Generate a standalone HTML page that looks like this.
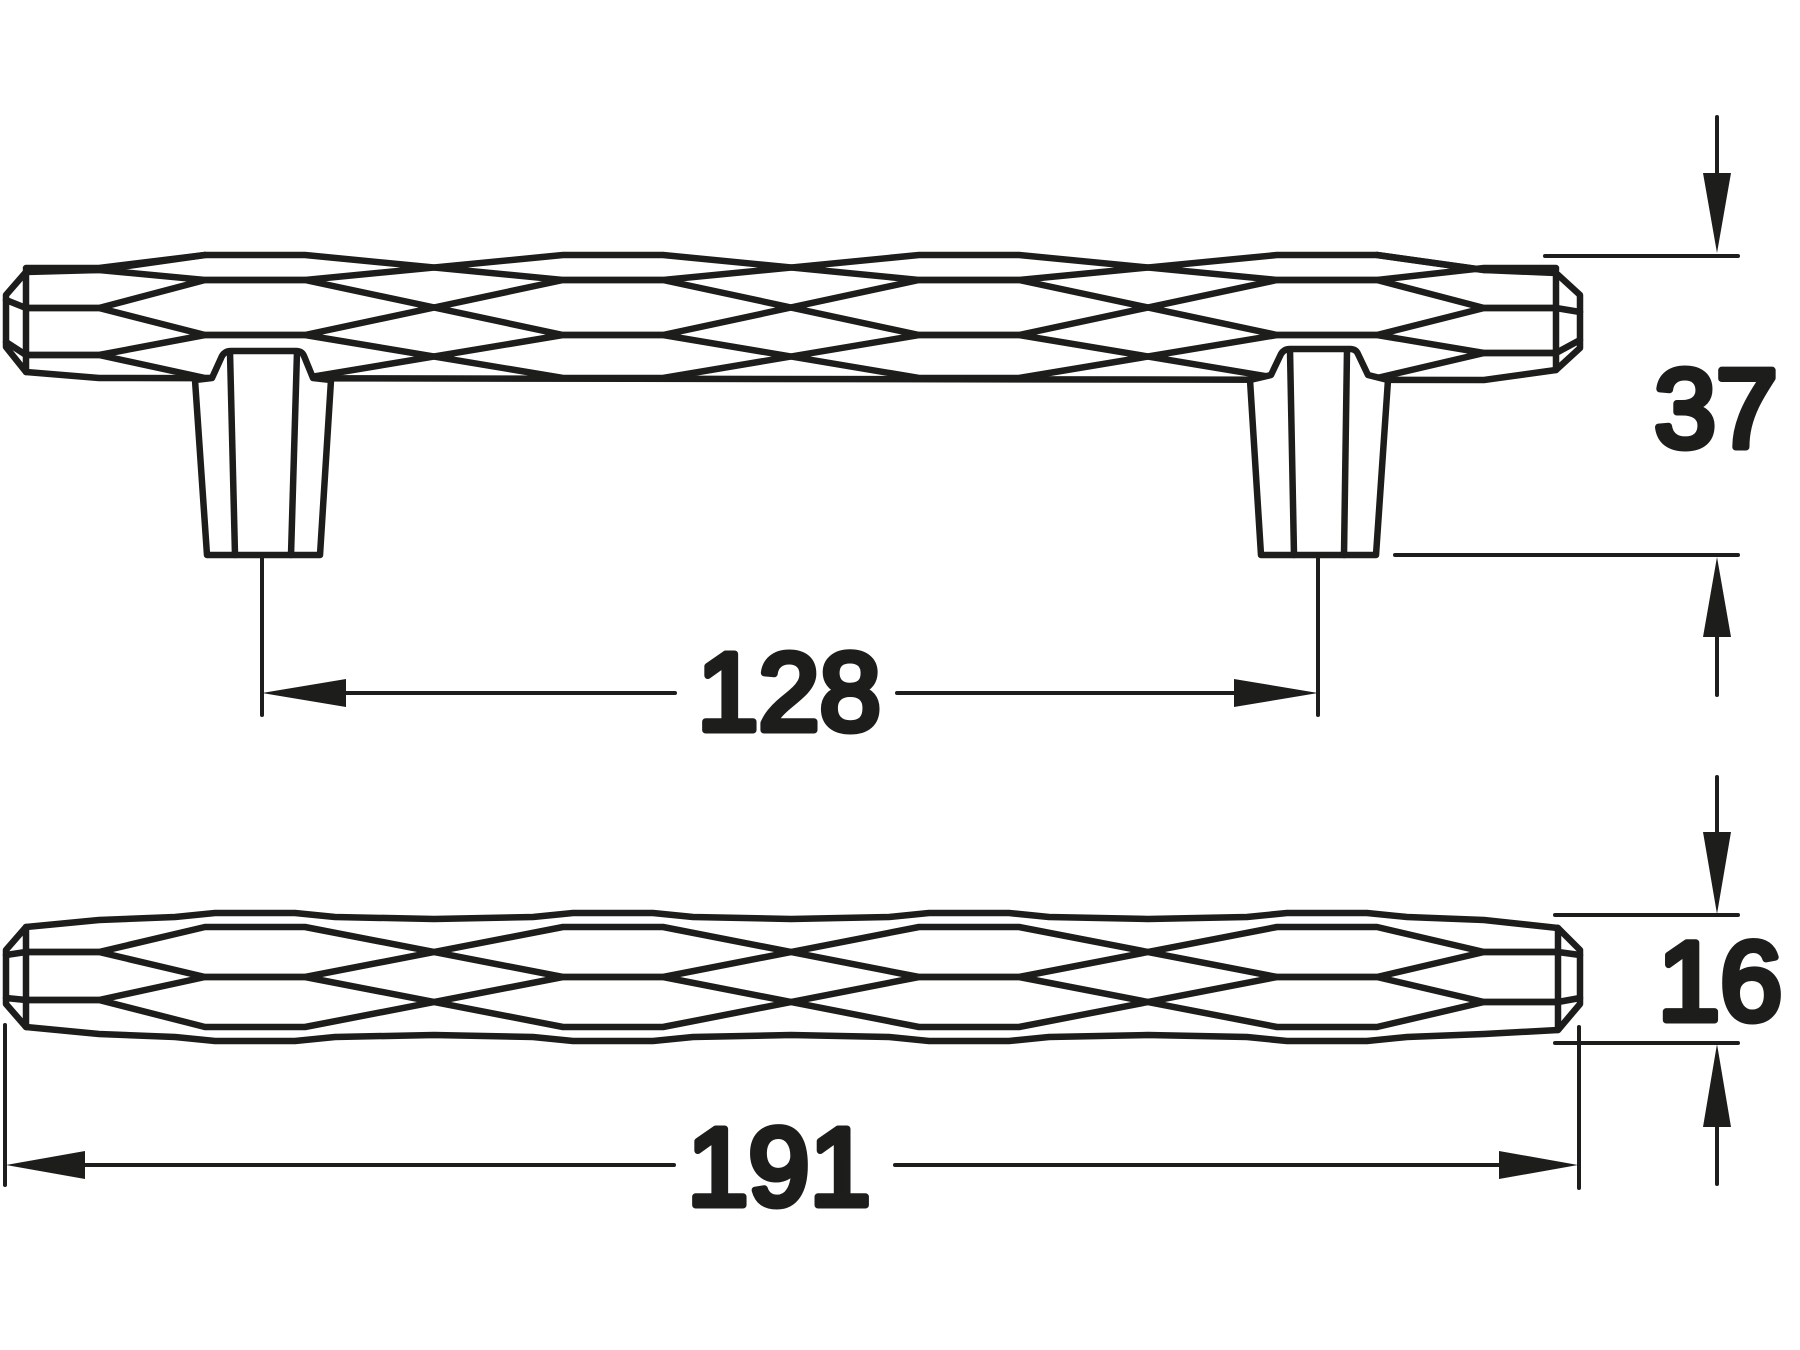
<!DOCTYPE html>
<html><head><meta charset="utf-8"><style>
html,body{margin:0;padding:0;background:#fff}
svg{display:block}
.t{font-family:"Liberation Sans",Arial,Helvetica,sans-serif;font-weight:400}
</style></head><body>
<svg width="1800" height="1350" viewBox="0 0 1800 1350" xmlns="http://www.w3.org/2000/svg">
<g fill="none" stroke="#1d1d1b" stroke-width="6.5" stroke-linejoin="round" stroke-linecap="round">
<polyline points="26,268 99,268 205,255 305,255 563,280 663,280 919,255 1019,255 1277,280 1377,280 1484,268 1556,268"/>
<polyline points="26,270 99,270 205,280 305,280 563,255 663,255 919,280 1019,280 1277,255 1377,255 1484,270 1556,270"/>
<polyline points="26,308 99,308 205,280 305,280 563,335 663,335 919,280 1019,280 1277,335 1377,335 1484,308 1556,308"/>
<polyline points="26,308 99,308 205,335 305,335 563,280 663,280 919,335 1019,335 1277,280 1377,280 1484,308 1556,308"/>
<polyline points="26,355 99,355 205,335 305,335 563,378 663,378 919,335 1019,335 1277,378 1377,378 1484,353 1556,353"/>
<polyline points="26,355 99,355 205,378 305,378 563,335 663,335 919,378 1019,378 1277,335 1377,335 1484,353 1556,353"/>
<polyline points="26,272 99,270 205,255"/>
<polyline points="1377,255 1484,270 1556,273"/>
<polyline points="26,372 99,378 1484,380 1556,370"/>
<polyline points="26,272 6,295 6,347 26,372 26,272"/>
<polyline points="6,300 26,308"/><polyline points="6,342 26,355"/>
<polyline points="1556,273 1580,295 1580,348 1556,370 1556,273"/>
<polyline points="1580,312 1556,308"/><polyline points="1580,340 1556,353"/>

<path d="M195,380 L212,378 L222,356 Q225,351 231,351 L296,351 Q302,351 304,356 L313,378 L331,380 L320,555 L207,555 Z" fill="#fff"/>
<line x1="230" y1="352" x2="235" y2="555"/>
<line x1="297" y1="352" x2="291" y2="555"/>
<path d="M1250,380 L1271,375 L1281,354 Q1284,349 1290,349 L1350,349 Q1356,349 1358,354 L1368,375 L1388,380 L1376,555 L1261,555 Z" fill="#fff"/>
<line x1="1290" y1="350" x2="1294" y2="555"/>
<line x1="1347" y1="350" x2="1344" y2="555"/>

<polyline points="26,952 99,952 205,927 305,927 563,977 663,977 919,927 1019,927 1277,977 1377,977 1484,952 1558,952"/>
<polyline points="26,952 99,952 205,977 305,977 563,927 663,927 919,977 1019,977 1277,927 1377,927 1484,952 1558,952"/>
<polyline points="26,1000 99,1000 205,977 305,977 563,1027 663,1027 919,977 1019,977 1277,1027 1377,1027 1484,1002 1558,1002"/>
<polyline points="26,1000 99,1000 205,1027 305,1027 563,977 663,977 919,1027 1019,1027 1277,977 1377,977 1484,1002 1558,1002"/>
<polyline points="26,927 99,920 175,917 215,913 295,913 335,917 434,919 533,917 573,913 653,913 693,917 791,919 889,917 929,913 1009,913 1049,917 1148,919 1247,917 1287,913 1367,913 1407,917 1484,920 1558,928"/>
<polyline points="26,1027 99,1034 175,1037 215,1041 295,1041 335,1037 434,1035 533,1037 573,1041 653,1041 693,1037 791,1035 889,1037 929,1041 1009,1041 1049,1037 1148,1035 1247,1037 1287,1041 1367,1041 1407,1037 1484,1034 1558,1030"/>
<polyline points="26,927 6,950 6,1004 26,1027 26,927"/>
<polyline points="6,955 26,952"/><polyline points="6,998 26,1000"/>
<polyline points="1558,928 1580,950 1580,1004 1558,1030 1558,928"/>
<polyline points="1580,955 1558,952"/><polyline points="1580,998 1558,1002"/>
</g>

<g stroke="#1d1d1b" stroke-width="4" stroke-linecap="round" fill="none">
<line x1="262" y1="555" x2="262" y2="715"/>
<line x1="1318" y1="555" x2="1318" y2="715"/>
<line x1="300" y1="693" x2="675" y2="693"/>
<line x1="897" y1="693" x2="1290" y2="693"/>
<line x1="1545" y1="256" x2="1738" y2="256"/>
<line x1="1717" y1="117" x2="1717" y2="180"/>
<line x1="1395" y1="555" x2="1738" y2="555"/>
<line x1="1717" y1="630" x2="1717" y2="695"/>
<line x1="1717" y1="777" x2="1717" y2="840"/>
<line x1="1555" y1="915" x2="1738" y2="915"/>
<line x1="1555" y1="1043" x2="1738" y2="1043"/>
<line x1="1717" y1="1120" x2="1717" y2="1184"/>
<line x1="5" y1="1025" x2="5" y2="1185"/>
<line x1="1579" y1="1027" x2="1579" y2="1188"/>
<line x1="60" y1="1165" x2="674" y2="1165"/>
<line x1="895" y1="1165" x2="1550" y2="1165"/>
</g>
<g fill="#1d1d1b">
<polygon points="262,693 346,679 346,707"/>
<polygon points="1318,693 1234,679 1234,707"/>
<polygon points="1717,253 1703,173 1731,173"/>
<polygon points="1717,557 1703,637 1731,637"/>
<polygon points="1717,914 1703,832 1731,832"/>
<polygon points="1717,1044 1703,1127 1731,1127"/>
<polygon points="6,1165 85,1151 85,1179"/>
<polygon points="1578,1165 1499,1151 1499,1179"/>
</g>
<g class="t" fill="#1d1d1b" stroke="#1d1d1b" stroke-width="7" stroke-linejoin="round" text-anchor="middle">
<text class="t" x="789" y="730" font-size="110">128</text>
<text class="t" x="779" y="1205" font-size="110">191</text>
<text class="t" x="1716" y="447" font-size="111">37</text>
<text class="t" x="1720" y="1020" font-size="112">16</text>
</g>
</svg>
</body></html>
